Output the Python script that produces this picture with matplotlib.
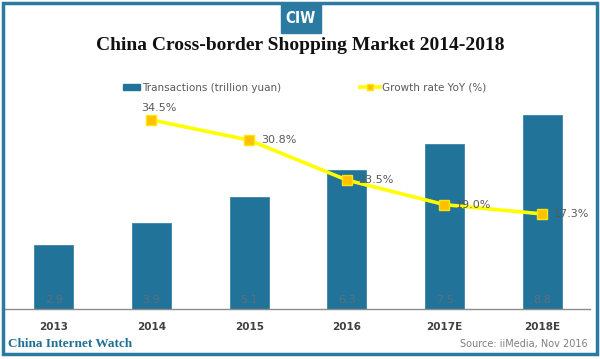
import matplotlib
matplotlib.use("Agg")
import matplotlib.pyplot as plt
from matplotlib.patches import Rectangle
from matplotlib.lines import Line2D

# data
years = ["2013", "2014", "2015", "2016", "2017E", "2018E"]
transactions = [2.9, 3.9, 5.1, 6.3, 7.5, 8.8]
growth_years = [1, 2, 3, 4, 5]
growth = [34.5, 30.8, 23.5, 19.0, 17.3]

blue = "#22739A"
frame_blue = "#2A7AA2"
gray = "#595959"

fig = plt.figure(figsize=(6, 3.59), dpi=100)

# plot area: x 5..590 px, y 109..309 px
ax = fig.add_axes([5/600, 50/359, 585/600, 200/359])
x = range(len(years))
ax.bar(x, transactions, width=0.40, color=blue, edgecolor="#3A85AA", linewidth=0.6, zorder=2)
for i, v in enumerate(transactions):
    ax.text(i, 0.2, f"{v}", ha="center", va="bottom", fontsize=8, color="#5E6E7A")
ax.set_xlim(-0.5, 5.49)
ax.set_ylim(0, 9.09)
ax.set_yticks([])
ax.set_xticks(list(x))
ax.set_xticklabels(years, fontsize=7.5, color="#404040", fontweight="semibold")
ax.tick_params(axis="x", length=0, pad=9)
for s in ["top", "left", "right"]:
    ax.spines[s].set_visible(False)
ax.spines["bottom"].set_color("#8C8C8C")
ax.spines["bottom"].set_linewidth(1.0)

ax2 = ax.twinx()
ax2.plot(growth_years, growth, color="#FFFF00", lw=2.6, marker="s", markersize=6.5,
         markerfacecolor="#FFC000", markeredgecolor="#FFE600", markeredgewidth=1, zorder=3)
for xi, g in zip(growth_years, growth):
    if xi == 1:
        ax2.text(xi + 0.08, g + 1.2, f"{g:.1f}%", ha="center", va="bottom", fontsize=8, color=gray)
    else:
        ax2.text(xi + 0.12, g, f"{g:.1f}%", ha="left", va="center", fontsize=8, color=gray)
ax2.set_ylim(-0.1, 36.5)
ax2.set_yticks([])
for s in ["top", "left", "right", "bottom"]:
    ax2.spines[s].set_visible(False)

# legend entries
bar_handle = Rectangle((0, 0), 1, 1, color=blue)
line_handle = Line2D([0], [0], color="#FFFF00", lw=2.6, marker="s", markersize=5,
                     markerfacecolor="#FFC000", markeredgecolor="#FFE600")
fig.legend([bar_handle], ["Transactions (trillion yuan)"], loc="center left",
           bbox_to_anchor=(123/600, 1 - 88/359), frameon=False, fontsize=7.5,
           handlelength=1.6, handleheight=0.5, handletextpad=0.2, borderpad=0,
           borderaxespad=0, labelcolor=gray)
fig.legend([line_handle], ["Growth rate YoY (%)"], loc="center left",
           bbox_to_anchor=(360/600, 1 - 88/359), frameon=False, fontsize=7.5,
           handlelength=1.9, handletextpad=0.2, borderpad=0,
           borderaxespad=0, labelcolor=gray)

# title
fig.text(0.5, 1 - 46/359, "China Cross-border Shopping Market 2014-2018",
         ha="center", va="center", fontsize=14, fontweight="bold",
         family="Liberation Serif", color="#111111")

# CIW badge
fig.patches.append(Rectangle((281/600, 1 - 33/359), 40/600, 29/359,
                             transform=fig.transFigure, color=frame_blue, zorder=5))
fig.text(301/600, 1 - 18.5/359, "CIW", ha="center", va="center", fontsize=11,
         fontweight="bold", color="white", zorder=6, fontstretch="condensed")

# footer
fig.text(8/600, 1 - 344/359, "China Internet Watch", ha="left", va="center",
         fontsize=9.5, fontweight="bold", family="Liberation Serif", color="#1F6E94")
fig.text(588/600, 1 - 344/359, "Source: iiMedia, Nov 2016", ha="right", va="center",
         fontsize=7, color="#7F7F7F")

# frame
fig.patches.append(Rectangle((3/600, 5/359), 594/600, 351/359, transform=fig.transFigure,
                             fill=False, edgecolor=frame_blue, linewidth=2.5, zorder=4))

fig.savefig("out.png", dpi=100)
